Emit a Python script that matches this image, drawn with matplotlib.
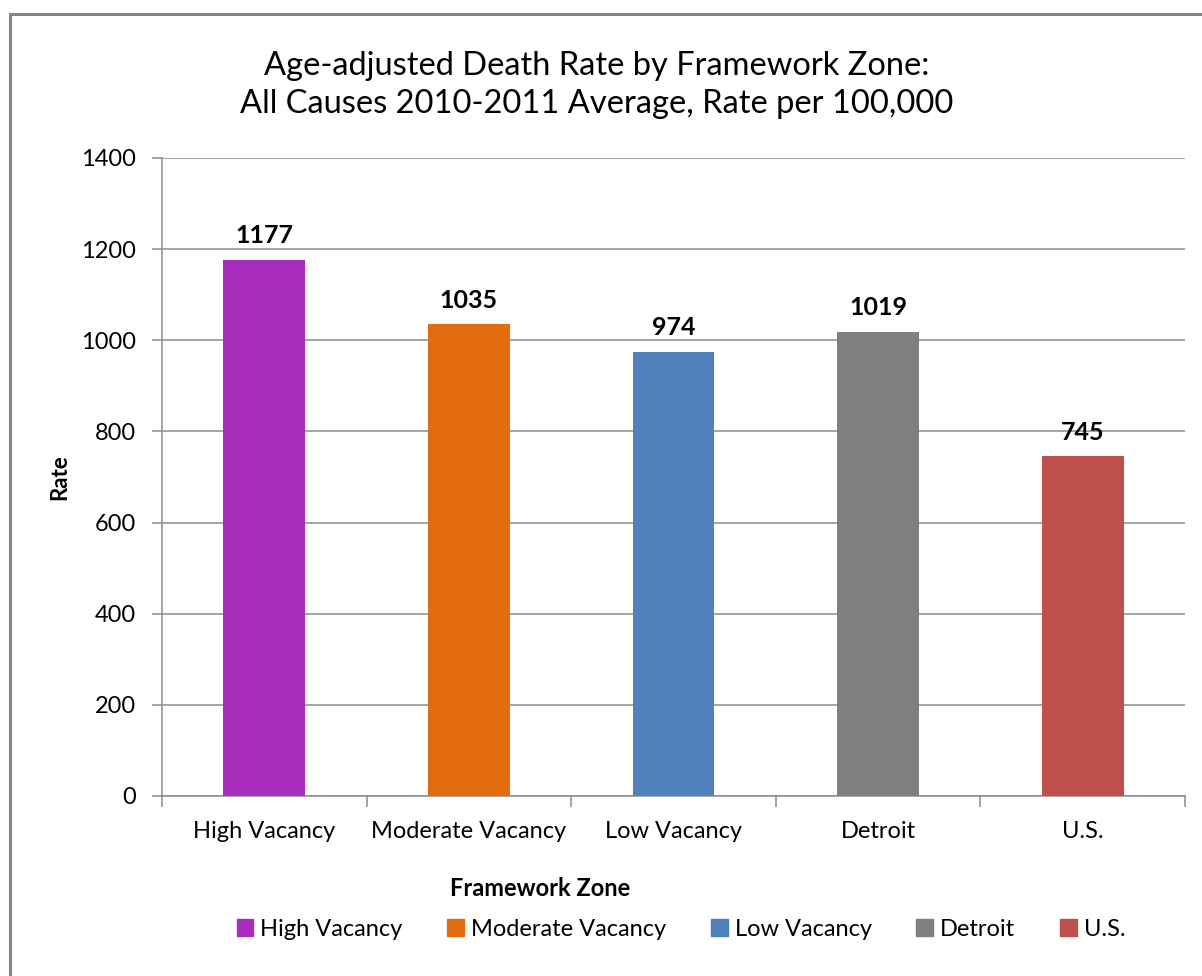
import matplotlib.pyplot as plt
from matplotlib.patches import Rectangle

plt.rcParams['font.family'] = ['Lato', 'DejaVu Sans']

# data
zones = ['High Vacancy', 'Moderate Vacancy', 'Low Vacancy', 'Detroit', 'U.S.']
rates = [1177, 1035, 974, 1019, 745]
colors = ['#A92DBD', '#E36C0E', '#4F81BD', '#808080', '#C0504D']
yticks = [0, 200, 400, 600, 800, 1000, 1200, 1400]

W, H = 1202, 976
fig = plt.figure(figsize=(W / 100, H / 100), dpi=100)

# outer chart border (left/top visible, rest runs off the image)
fig.patches.append(Rectangle((10 / W, -0.05), 1.1, 1 - 14 / H + 0.05,
                             transform=fig.transFigure, fill=False,
                             edgecolor='#868686', linewidth=2.2))

ax = fig.add_axes([162 / W, 1 - 796 / H, (1185 - 162) / W, (796 - 158) / H])

x = list(range(len(zones)))
bars = ax.bar(x, rates, width=0.4, color=colors, zorder=3, label=zones)
for xi, r in zip(x, rates):
    ax.text(xi, r + 28, str(r), ha='center', va='bottom', fontsize=18,
            fontweight='bold')

ax.set_xlim(-0.5, len(zones) - 0.5)
ax.set_ylim(0, 1400)
ax.set_yticks(yticks)
ax.yaxis.grid(True, color='#8C8C8C', linewidth=1.1, zorder=0)
ax.tick_params(axis='y', length=7, width=1.1, color='#8C8C8C', labelsize=17, pad=12)
ax.set_xticks(x)
ax.set_xticklabels(zones)
ax.tick_params(axis='x', length=0, labelsize=17, pad=18)
ax.set_xticks([i - 0.5 for i in range(len(zones) + 1)], minor=True)
ax.tick_params(axis='x', which='minor', length=8, width=1.1, color='#8C8C8C')

for s in ['top', 'right']:
    ax.spines[s].set_visible(False)
for s in ['left', 'bottom']:
    ax.spines[s].set_color('#8C8C8C')
    ax.spines[s].set_linewidth(1.1)

fig.text(597 / W, 1 - 85 / H,
         'Age-adjusted Death Rate by Framework Zone:\nAll Causes 2010-2011 Average, Rate per 100,000',
         ha='center', va='center', fontsize=23.5, linespacing=1.3)
fig.text(60 / W, 1 - 477 / H, 'Rate', rotation=90, ha='center', va='center',
         fontsize=16, fontweight='bold')
fig.text(540 / W, 1 - 889 / H, 'Framework Zone', ha='center', va='center',
         fontsize=17, fontweight='bold')

handles = [Rectangle((0, 0), 1, 1, color=c) for c in colors]
fig.legend(handles, zones, loc='center', bbox_to_anchor=(681 / W, 1 - 929 / H),
           ncol=5, frameon=False, fontsize=17, handlelength=0.7,
           handleheight=0.7, handletextpad=0.3, columnspacing=1.9)

fig.savefig('out.png', dpi=100)
